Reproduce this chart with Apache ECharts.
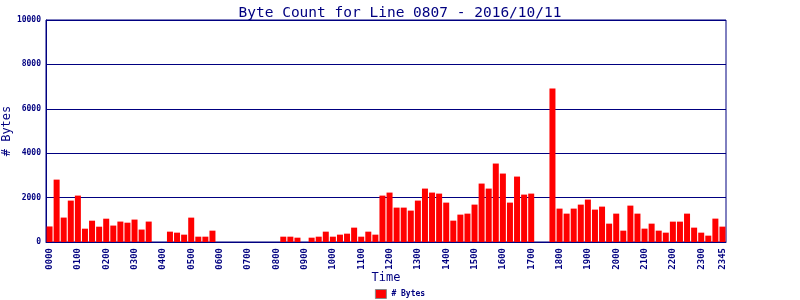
<!DOCTYPE html>
<html>
<head>
<meta charset="utf-8">
<script src="https://cdn.jsdelivr.net/npm/echarts@6/dist/echarts.min.js"></script>
<style>html,body{margin:0;padding:0;background:#fff}#c{width:800px;height:300px}</style>
</head>
<body>
<div id="c"></div>
<script>
var titleText = 'Byte Count for Line 0807 - 2016/10/11';
var seriesName = '# Bytes';
var categories = [
'0000','0015','0030','0045','0100','0115','0130','0145','0200','0215','0230','0245',
'0300','0315','0330','0345','0400','0415','0430','0445','0500','0515','0530','0545',
'0600','0615','0630','0645','0700','0715','0730','0745','0800','0815','0830','0845',
'0900','0915','0930','0945','1000','1015','1030','1045','1100','1115','1130','1145',
'1200','1215','1230','1245','1300','1315','1330','1345','1400','1415','1430','1445',
'1500','1515','1530','1545','1600','1615','1630','1645','1700','1715','1730','1745',
'1800','1815','1830','1845','1900','1915','1930','1945','2000','2015','2030','2045',
'2100','2115','2130','2145','2200','2215','2230','2245','2300','2315','2330','2345'];
var byteCounts = [
700,2810,1100,1865,2090,600,960,690,1050,740,920,870,
1010,560,920,0,0,466,421,331,1098,240,240,511,
0,0,0,0,0,0,0,0,0,240,240,195,
0,195,240,466,240,331,376,647,240,466,331,2090,
2226,1549,1549,1414,1865,2406,2226,2180,1774,962,1233,1278,
1684,2632,2406,3534,3083,1774,2947,2135,2180,0,0,6917,
1504,1278,1504,1684,1910,1459,1594,827,1278,511,1639,1278,
602,827,511,421,917,917,1278,647,421,286,1053,692];
var yTicks = [0, 2000, 4000, 6000, 8000, 10000];

var navy = '#000080';
var mono = '"DejaVu Sans Mono", "Liberation Mono", monospace';
var chart = echarts.init(document.getElementById('c'), null, {renderer: 'canvas'});
chart.setOption({
  animation: false,
  backgroundColor: '#fff',
  title: {
    text: titleText, left: 'center', top: 1,
    textStyle: {color: navy, fontFamily: mono, fontSize: 14.5, fontWeight: 'normal'}
  },
  legend: {
    data: [{name: seriesName, icon: 'rect'}], left: 'center', bottom: 1, padding: 0,
    itemWidth: 11, itemHeight: 9, itemGap: 4,
    itemStyle: {borderColor: '#888', borderWidth: 1},
    textStyle: {color: navy, fontFamily: mono, fontSize: 8, fontWeight: 'bold'}
  },
  grid: {left: 46, top: 20, width: 680, height: 222, containLabel: false, outerBoundsMode: 'none',
         show: true, borderColor: navy, borderWidth: 1, backgroundColor: 'transparent'},
  xAxis: {
    type: 'category', data: categories,
    name: 'Time', nameLocation: 'middle', nameGap: 30, nameMoveOverlap: false,
    nameTextStyle: {color: navy, fontFamily: mono, fontSize: 12},
    axisLine: {show: true, lineStyle: {color: navy, width: 1}},
    axisTick: {show: false},
    axisLabel: {
      show: true, rotate: 90, margin: 6, color: navy, fontFamily: mono, fontSize: 9, fontWeight: 'bold',
      hideOverlap: false,
      interval: function (i) { return i % 4 === 0 || i === categories.length - 1; }
    }
  },
  yAxis: {
    type: 'value', min: yTicks[0], max: yTicks[yTicks.length - 1], interval: yTicks[1] - yTicks[0],
    name: seriesName, nameLocation: 'middle', nameGap: 33, nameMoveOverlap: false,
    nameTextStyle: {color: navy, fontFamily: mono, fontSize: 12},
    axisLine: {show: true, lineStyle: {color: navy, width: 1}},
    axisTick: {show: false},
    axisLabel: {color: navy, fontFamily: mono, fontSize: 8, fontWeight: 'bold', margin: 5,
      formatter: function (v) { return String(v); }},
    splitLine: {show: true, lineStyle: {color: navy, width: 1}}
  },
  series: [{
    name: seriesName, type: 'bar', data: byteCounts, barWidth: 6,
    itemStyle: {color: '#ff0000'}
  }]
});
</script>
</body>
</html>
